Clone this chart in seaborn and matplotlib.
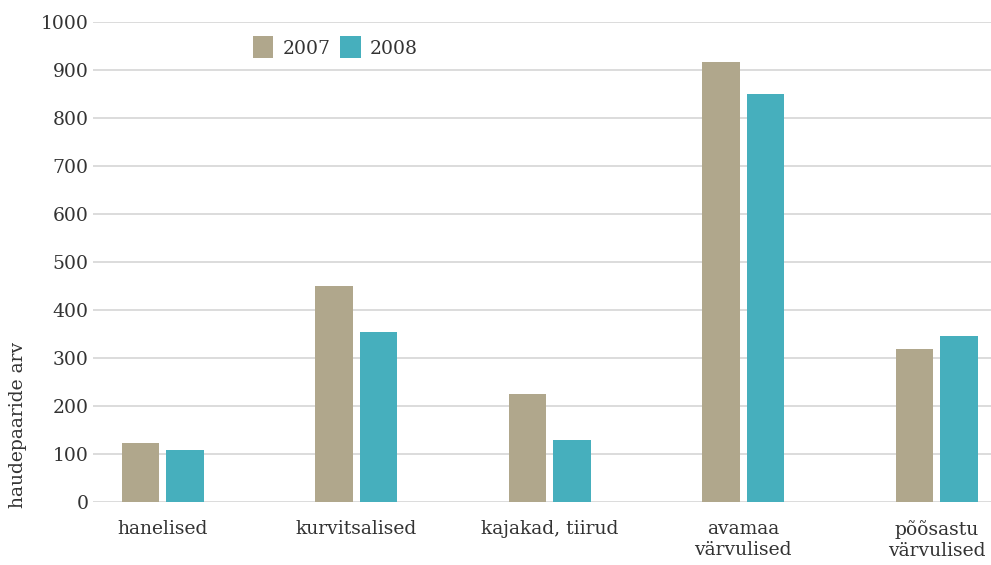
import pandas as pd
import seaborn as sns
import matplotlib.pyplot as plt

# data
categories = ['hanelised', 'kurvitsalised', 'kajakad, tiirud',
              'avamaa\nvärvulised', 'põõsastu\nvärvulised']
pairs_2007 = [123, 450, 225, 917, 319]
pairs_2008 = [108, 354, 129, 850, 346]
years = ['2007', '2008']
colors = ['#b0a78c', '#46afbd']

df = pd.DataFrame({
    'category': categories * 2,
    'year': [years[0]] * len(categories) + [years[1]] * len(categories),
    'pairs': pairs_2007 + pairs_2008,
})

sns.set_theme(style='white')
plt.rcParams['font.family'] = ['DejaVu Serif']

fig = plt.figure(figsize=(9.91, 5.65), dpi=100)
ax = fig.add_axes([0.0938, 0.1115, 0.9062, 0.8496])

sns.barplot(data=df, x='category', y='pairs', hue='year', order=categories,
            palette=colors, width=0.46, gap=0.157, saturation=1,
            linewidth=0, ax=ax)

ax.set_ylim(0, 1000)
ax.set_xlim(-0.36, 4.28)
ax.set_yticks(range(0, 1001, 100))
ax.yaxis.grid(True, color='#d9d9d9', linewidth=1.3)
ax.set_axisbelow(True)
for s in ax.spines.values():
    s.set_visible(False)

fs = 13.5
ax.tick_params(axis='y', labelsize=fs, labelcolor='#333333', length=0, pad=3)
ax.tick_params(axis='x', labelsize=fs, labelcolor='#333333', length=0, pad=13)
for lbl in ax.get_xticklabels():
    lbl.set_linespacing(1.2)

ax.set_xlabel('')
ax.set_ylabel('')
ax.text(-0.0835, -0.012, 'haudepaaride arv', transform=ax.transAxes,
        rotation=90, ha='center', va='bottom', fontsize=fs, color='#333333')

ax.legend(loc='upper left', bbox_to_anchor=(0.159, 1.005), ncol=2,
          frameon=False, fontsize=fs, handlelength=1.1, handleheight=1.4,
          handletextpad=0.5, columnspacing=0.5, labelcolor='#333333')

fig.savefig('out.png', dpi=100)
